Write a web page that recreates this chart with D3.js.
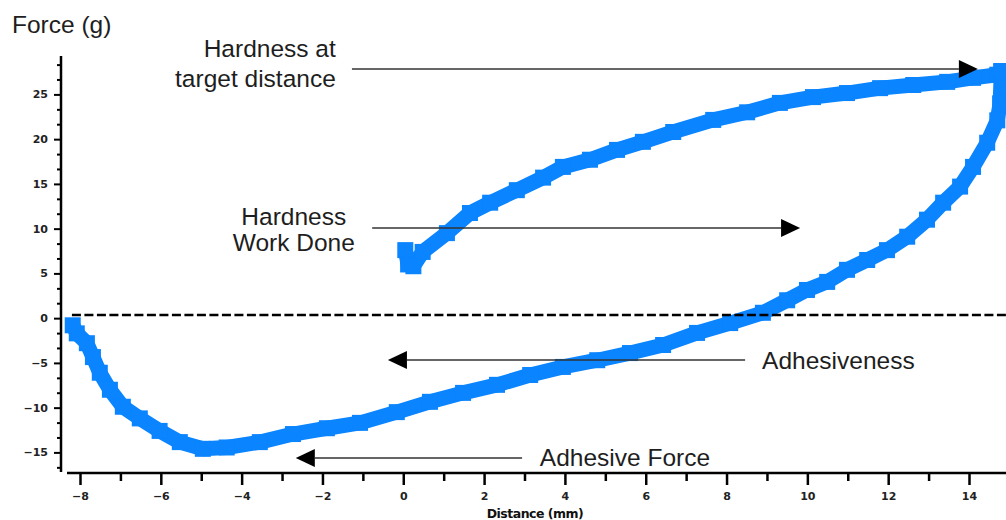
<!DOCTYPE html>
<html>
<head>
<meta charset="utf-8">
<script src="https://cdn.jsdelivr.net/npm/d3@7"></script>
<style>
html,body{margin:0;padding:0;background:#fff;}
svg{display:block;}
</style>
</head>
<body>
<svg id="chart" width="1006" height="520"></svg>
<script>
// ---- data ----
const xTickValues = [-8, -6, -4, -2, 0, 2, 4, 6, 8, 10, 12, 14];
const xMinorTicks = [-7, -5, -3, -1, 1, 3, 5, 7, 9, 11, 13];
const yTickValues = [-15, -10, -5, 0, 5, 10, 15, 20, 25];
const yMinorTicks = [-16.67, -13.33, -11.67, -8.33, -6.67, -3.33, -1.67, 1.67, 3.33, 6.67, 8.33, 11.67, 13.33, 16.67, 18.33, 21.67, 23.33, 26.67, 28.33];

// probe going down (hardness curve)
const downX = [0.05, 0.12, 0.25, 0.48, 1.08, 1.65, 2.15, 2.81, 3.46, 3.95, 4.62, 5.29, 5.93, 6.68, 7.67, 8.51, 9.32, 10.14, 10.98, 11.80, 12.62, 13.46, 14.10, 14.70, 14.80];
const downY = [7.6, 6.0, 5.8, 7.4, 9.5, 11.75, 12.9, 14.3, 15.7, 16.9, 17.7, 18.8, 19.7, 20.8, 22.15, 23.0, 24.05, 24.7, 25.15, 25.7, 26.05, 26.4, 26.85, 27.2, 27.6];
// probe withdrawing (adhesiveness curve)
const upX = [14.80, 14.77, 14.70, 14.45, 14.10, 13.78, 13.36, 12.96, 12.47, 11.97, 11.48, 10.98, 10.49, 9.99, 9.50, 8.90, 8.09, 7.27, 6.43, 5.61, 4.80, 3.95, 3.14, 2.32, 1.48, 0.66, -0.16, -1.07, -1.89, -2.73, -3.55, -4.37, -4.96, -5.53, -6.03, -6.52, -6.94, -7.26, -7.51, -7.68, -7.83, -8.08, -8.18];
const upY = [27.6, 24.0, 22.1, 19.6, 16.9, 14.7, 12.9, 11.0, 9.1, 7.6, 6.5, 5.4, 4.05, 3.15, 2.0, 0.6, -0.55, -1.65, -3.0, -3.9, -4.7, -5.45, -6.35, -7.45, -8.35, -9.35, -10.5, -11.7, -12.3, -12.95, -13.85, -14.45, -14.6, -13.85, -12.6, -11.2, -9.9, -8.0, -6.1, -4.35, -2.8, -1.7, -0.8];
// return trace near zero
const returnX = [-8.2, 14.92];
const returnY = [0.35, 0.35];

// annotations (data units)
const arrowLabels = [
  {lines: ["Hardness at", "target distance"], x: -1.67, y: [29.18, 25.83], anchor: "end"},
  {lines: ["Hardness", "Work Done"], x: -2.71, y: [10.41, 7.51], anchor: "middle"},
  {lines: ["Adhesiveness"], x: 8.88, y: [-5.68], anchor: "start"},
  {lines: ["Adhesive Force"], x: 3.38, y: [-16.51], anchor: "start"}
];
const arrows = [
  {x1: -1.27, x2: 14.22, y: 27.84},
  {x1: -0.77, x2: 9.82, y: 10.08},
  {x1: 8.46, x2: -0.38, y: -4.67},
  {x1: 2.94, x2: -2.66, y: -15.62}
];

// ---- scales ----
const x = d3.scaleLinear().domain([-8, 14]).range([80, 969]);
const y = d3.scaleLinear().domain([-15, 25]).range([452.4, 94.4]);

const svg = d3.select("#chart");
const blue = "#0a84ff";
const ink = "#1e1e1e";

// ---- data marks ----
const line = d3.line().x(d => x(d[0])).y(d => y(d[1]));
const downPts = downX.map((v, i) => [v, downY[i]]);
const upPts = upX.map((v, i) => [v, upY[i]]);
const retPts = returnX.map((v, i) => [v, returnY[i]]);

[downPts, upPts].forEach(pts => {
  svg.append("path").datum(pts).attr("d", line)
    .attr("fill", "none").attr("stroke", blue).attr("stroke-width", 15)
    .attr("stroke-linejoin", "round");
  svg.append("g").selectAll("rect").data(pts).enter().append("rect")
    .attr("x", d => x(d[0]) - 8).attr("y", d => y(d[1]) - 8)
    .attr("width", 16).attr("height", 16)
    .attr("fill", blue);
});

svg.append("path").datum(retPts).attr("d", line)
  .attr("fill", "none").attr("stroke", "#000").attr("stroke-width", 2.5)
  .attr("stroke-dasharray", "9,3.5");

// ---- axes ----
const yAxisX = 61, xAxisY = 473;
const yAxis = d3.axisLeft(y).tickValues(yTickValues).tickSize(7).tickPadding(6).tickFormat(d3.format("d"));
const gy = svg.append("g").attr("transform", `translate(${yAxisX},0)`).call(yAxis);
gy.select(".domain").remove();
gy.selectAll(".tick line").attr("stroke", "#000").attr("stroke-width", 2);
gy.selectAll(".tick text").attr("font-family", "DejaVu Sans").attr("font-weight", "bold")
  .attr("font-size", 11).attr("fill", "#222");
const yMinorAxis = d3.axisLeft(y).tickValues(yMinorTicks).tickSize(4).tickFormat("");
const gym = svg.append("g").attr("transform", `translate(${yAxisX},0)`).call(yMinorAxis);
gym.select(".domain").remove();
gym.selectAll(".tick line").attr("stroke", "#000").attr("stroke-width", 2);
svg.append("line").attr("x1", yAxisX).attr("x2", yAxisX).attr("y1", 56).attr("y2", 472)
  .attr("stroke", "#000").attr("stroke-width", 2.5);

const xAxis = d3.axisBottom(x).tickValues(xTickValues).tickSize(12).tickPadding(7).tickFormat(d3.format("d"));
const gx = svg.append("g").attr("transform", `translate(0,${xAxisY})`).call(xAxis);
gx.select(".domain").remove();
gx.selectAll(".tick line").attr("stroke", "#000").attr("stroke-width", 2.5);
gx.selectAll(".tick text").attr("font-family", "DejaVu Sans").attr("font-weight", "bold")
  .attr("font-size", 11).attr("fill", "#222");
const xMinorAxis = d3.axisBottom(x).tickValues(xMinorTicks).tickSize(8).tickFormat("");
const gxm = svg.append("g").attr("transform", `translate(0,${xAxisY})`).call(xMinorAxis);
gxm.select(".domain").remove();
gxm.selectAll(".tick line").attr("stroke", "#000").attr("stroke-width", 2.5);
svg.append("line").attr("x1", 67).attr("x2", 1006).attr("y1", xAxisY).attr("y2", xAxisY)
  .attr("stroke", "#000").attr("stroke-width", 2.5);

// axis titles
svg.append("text").attr("x", 12).attr("y", 33).text("Force (g)")
  .attr("font-family", "Liberation Sans, Arial, sans-serif").attr("font-size", 24.5).attr("fill", ink);
svg.append("text").attr("x", 535).attr("y", 518).attr("text-anchor", "middle").text("Distance (mm)")
  .attr("font-family", "DejaVu Sans").attr("font-weight", "bold").attr("font-size", 12.5)
  .attr("letter-spacing", "-0.5").attr("fill", "#111");

// ---- annotations ----
arrowLabels.forEach(a => {
  a.lines.forEach((t, i) => {
    svg.append("text").attr("x", x(a.x)).attr("y", y(a.y[i])).attr("text-anchor", a.anchor)
      .text(t).attr("font-family", "Liberation Sans, Arial, sans-serif")
      .attr("font-size", 24.5).attr("fill", ink);
  });
});
arrows.forEach(a => {
  const x1 = x(a.x1), x2 = x(a.x2), yy = y(a.y);
  const dir = x2 > x1 ? 1 : -1;
  const headLen = 19, headHalf = 9;
  svg.append("line").attr("x1", x1).attr("x2", x2 - dir * headLen).attr("y1", yy).attr("y2", yy)
    .attr("stroke", "#333").attr("stroke-width", 1.6);
  svg.append("path")
    .attr("d", `M${x2},${yy} L${x2 - dir * headLen},${yy - headHalf} L${x2 - dir * headLen},${yy + headHalf} Z`)
    .attr("fill", "#000");
});
</script>
</body>
</html>
